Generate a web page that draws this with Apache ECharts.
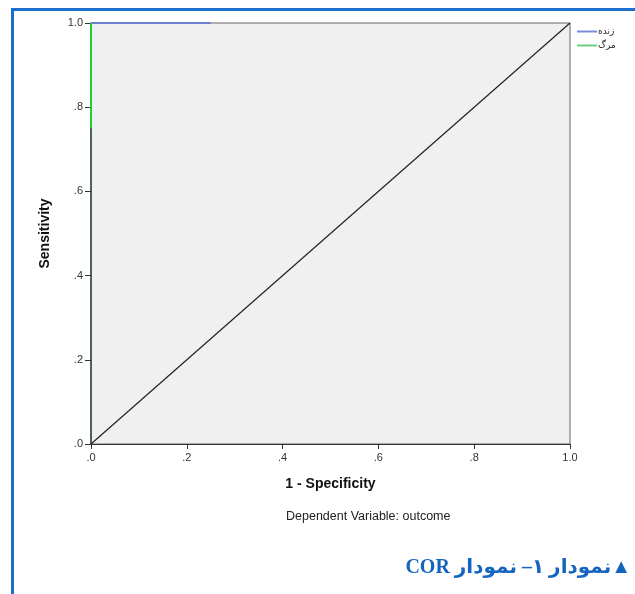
<!DOCTYPE html>
<html>
<head>
<meta charset="utf-8">
<script src="https://cdn.jsdelivr.net/npm/echarts@6/dist/echarts.min.js"></script>
<style>html,body{margin:0;padding:0;background:#fff}#c{width:635px;height:594px}</style>
</head>
<body>
<div id="c"></div>
<script>
var tickLabels = ['.0', '.2', '.4', '.6', '.8', '1.0'];
var tickValues = [0, 0.2, 0.4, 0.6, 0.8, 1.0];
var seriesNames = ['زنده', 'مرگ'];
var aliveCurve = [[0, 1], [0.25, 1]];
var deathCurve = [[0, 0.75], [0, 1]];
var referenceLine = [[0, 0], [1, 1]];

function fmt(v) {
  for (var i = 0; i < tickValues.length; i++) {
    if (Math.abs(tickValues[i] - v) < 1e-6) return tickLabels[i];
  }
  return '';
}

var chart = echarts.init(document.getElementById('c'), null, {renderer: 'canvas'});
chart.setOption({
  animation: false,
  backgroundColor: '#ffffff',
  grid: {
    left: 91, top: 23, width: 479, height: 421,
    show: true, backgroundColor: '#f0f0f0', borderColor: '#666', borderWidth: 1
  },
  legend: {
    orient: 'vertical', left: 572, top: 22, itemGap: 5,
    itemWidth: 20, itemHeight: 2, icon: 'rect',
    textStyle: {fontSize: 9, color: '#222', fontFamily: 'DejaVu Sans', padding: [0, 0, 0, -4]},
    data: seriesNames
  },
  xAxis: {
    type: 'value', min: 0, max: 1, interval: 0.2,
    name: '1 - Specificity', nameLocation: 'middle', nameGap: 33,
    nameTextStyle: {fontFamily: 'Liberation Sans', fontWeight: 'bold', fontSize: 14, color: '#111'},
    axisLine: {show: true, onZero: false, lineStyle: {color: '#333', width: 1}},
    axisTick: {show: true, length: 5, inside: false, lineStyle: {color: '#333'}},
    axisLabel: {formatter: fmt, margin: 8, fontFamily: 'Liberation Sans', fontSize: 11, color: '#333'},
    splitLine: {show: false}
  },
  yAxis: {
    type: 'value', min: 0, max: 1, interval: 0.2,
    name: 'Sensitivity', nameLocation: 'middle', nameGap: 39,
    nameTextStyle: {fontFamily: 'Liberation Sans', fontWeight: 'bold', fontSize: 14, color: '#111'},
    axisLine: {show: true, onZero: false, lineStyle: {color: '#2e4a38', width: 1.5}},
    axisTick: {show: true, length: 6, inside: false, lineStyle: {color: '#333'}},
    axisLabel: {formatter: fmt, margin: 8, fontFamily: 'Liberation Sans', fontSize: 11, color: '#333'},
    splitLine: {show: false}
  },
  series: [
    {
      name: 'reference', type: 'line', data: referenceLine, showSymbol: false, silent: true,
      lineStyle: {color: '#222', width: 1.2}, z: 2
    },
    {
      name: seriesNames[0], type: 'line', data: aliveCurve, showSymbol: false,
      color: '#7a8cd6', lineStyle: {color: '#6a7fd0', width: 2}, z: 3
    },
    {
      name: seriesNames[1], type: 'line', data: deathCurve, showSymbol: false,
      color: '#6cd07c', lineStyle: {color: '#22cc33', width: 2}, z: 4
    }
  ],
  graphic: [
    {type: 'line', shape: {x1: 11, y1: 9.5, x2: 635, y2: 9.5}, style: {stroke: '#1a6fcc', lineWidth: 3}, silent: true},
    {type: 'line', shape: {x1: 12.5, y1: 8, x2: 12.5, y2: 594}, style: {stroke: '#1a6fcc', lineWidth: 3}, silent: true},
    {type: 'text', left: 286, top: 510, style: {text: 'Dependent Variable: outcome', fontFamily: 'Liberation Sans', fontSize: 12.5, fill: '#222'}},
    {type: 'text', right: 4, top: 558, style: {text: '\u202B\u25B2نمودار ۱– نمودار COR\u202C', fontFamily: 'Liberation Serif, DejaVu Sans', fontWeight: 'bold', fontSize: 20, fill: '#1565c0'}}
  ]
});
</script>
</body>
</html>
